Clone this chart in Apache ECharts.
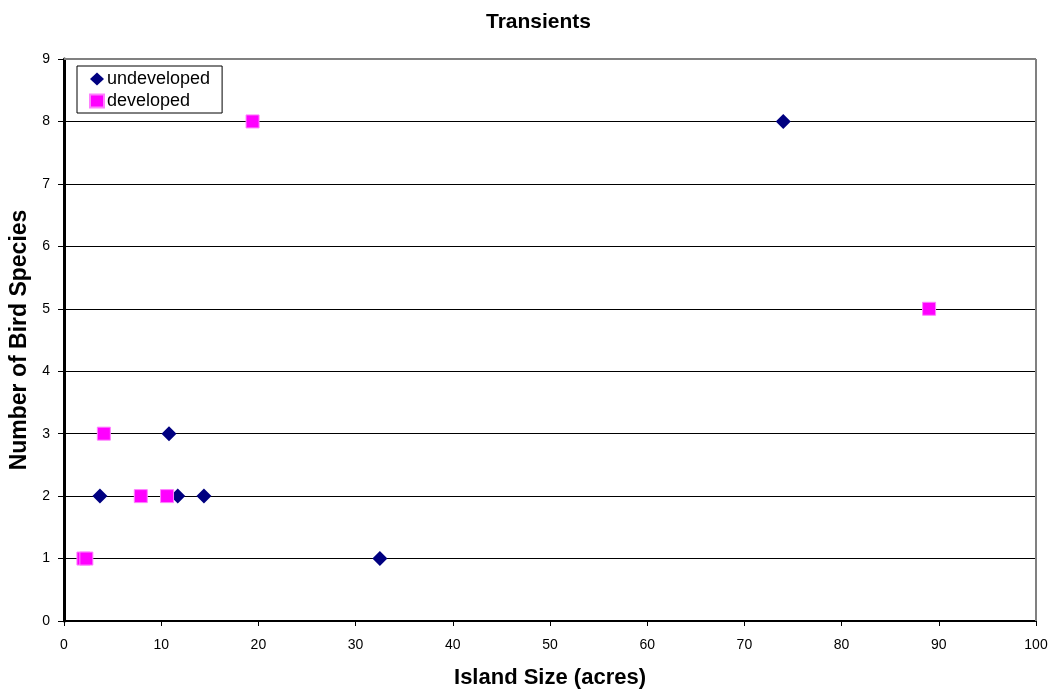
<!DOCTYPE html>
<html><head><meta charset="utf-8">
<script src="https://cdn.jsdelivr.net/npm/echarts@6/dist/echarts.min.js"></script>
<style>html,body{margin:0;padding:0;background:#fff}#c{width:1052px;height:689px}</style>
</head><body><div id="c"></div>
<script>
const title = "Transients";
const xTitle = "Island Size (acres)";
const yTitle = "Number of Bird Species";
const undevelopedX = [74, 10.8, 3.7, 11.7, 14.4, 32.5];
const undevelopedY = [8, 3, 2, 2, 2, 1];
const developedX = [19.4, 89, 4.1, 7.9, 10.6, 2.0, 2.3];
const developedY = [8, 5, 3, 2, 2, 1, 1];

const font = "'Liberation Sans', Arial, sans-serif";
const chart = echarts.init(document.getElementById('c'));
chart.setOption({
  animation: false,
  backgroundColor: '#fff',
  title: {text: title, left: 481, top: 7, textStyle: {fontFamily: font, fontSize: 21, fontWeight: 'bold', color: '#000'}},
  grid: {left: 64, right: 16, top: 59, bottom: 68, outerBoundsMode: 'none', containLabel: false},
  legend: {
    left: 77, top: 66, orient: 'vertical', itemGap: 4, itemWidth: 14, itemHeight: 13,
    borderColor: '#000', borderWidth: 1, padding: [4, 12, 3, 12], borderRadius: 0,
    textStyle: {fontFamily: font, fontSize: 18, color: '#000', padding: [0,0,0,-2]},
    data: [{name: 'undeveloped', icon: 'diamond'}, {name: 'developed', icon: 'rect'}]
  },
  xAxis: {
    type: 'value', min: 0, max: 100, interval: 10,
    name: xTitle, nameLocation: 'middle', nameGap: 46,
    nameTextStyle: {fontFamily: font, fontSize: 22, fontWeight: 'bold', color: '#000'},
    axisLine: {show: true, lineStyle: {color: '#000', width: 2}},
    axisTick: {show: true, length: 5, lineStyle: {color: '#000'}},
    axisLabel: {fontFamily: font, fontSize: 14, color: '#000', margin: 17},
    splitLine: {show: false}
  },
  yAxis: {
    type: 'value', min: 0, max: 9, interval: 1,
    name: yTitle, nameLocation: 'middle', nameGap: 32,
    nameTextStyle: {fontFamily: font, fontSize: 23, fontWeight: 'bold', color: '#000'},
    axisLine: {show: true, lineStyle: {color: '#000', width: 3}},
    axisTick: {show: true, length: 6, lineStyle: {color: '#000'}},
    axisLabel: {fontFamily: font, fontSize: 14, color: '#000', margin: 14},
    splitLine: {show: true, lineStyle: {color: '#000', width: 1}}
  },
  series: [
    {name: 'undeveloped', type: 'scatter', symbol: 'diamond', symbolSize: 15,
     itemStyle: {color: '#000080', opacity: 1},
     data: undevelopedX.map((x, i) => [x, undevelopedY[i]])},
    {name: 'developed', type: 'scatter', symbol: 'rect', symbolSize: 13,
     itemStyle: {color: '#FF00FF', borderColor: '#ff80ff', borderWidth: 1, opacity: 1},
     data: developedX.map((x, i) => [x, developedY[i]])},
    {name: 'frame', type: 'line', silent: true, symbol: 'none', data: [],
     markLine: {silent: true, symbol: 'none', label: {show: false},
       lineStyle: {color: '#808080', width: 2, type: 'solid'},
       data: [[{coord: [0, 9]}, {coord: [100, 9]}], [{coord: [100, 0]}, {coord: [100, 9]}]]}}
  ]
});
</script></body></html>
